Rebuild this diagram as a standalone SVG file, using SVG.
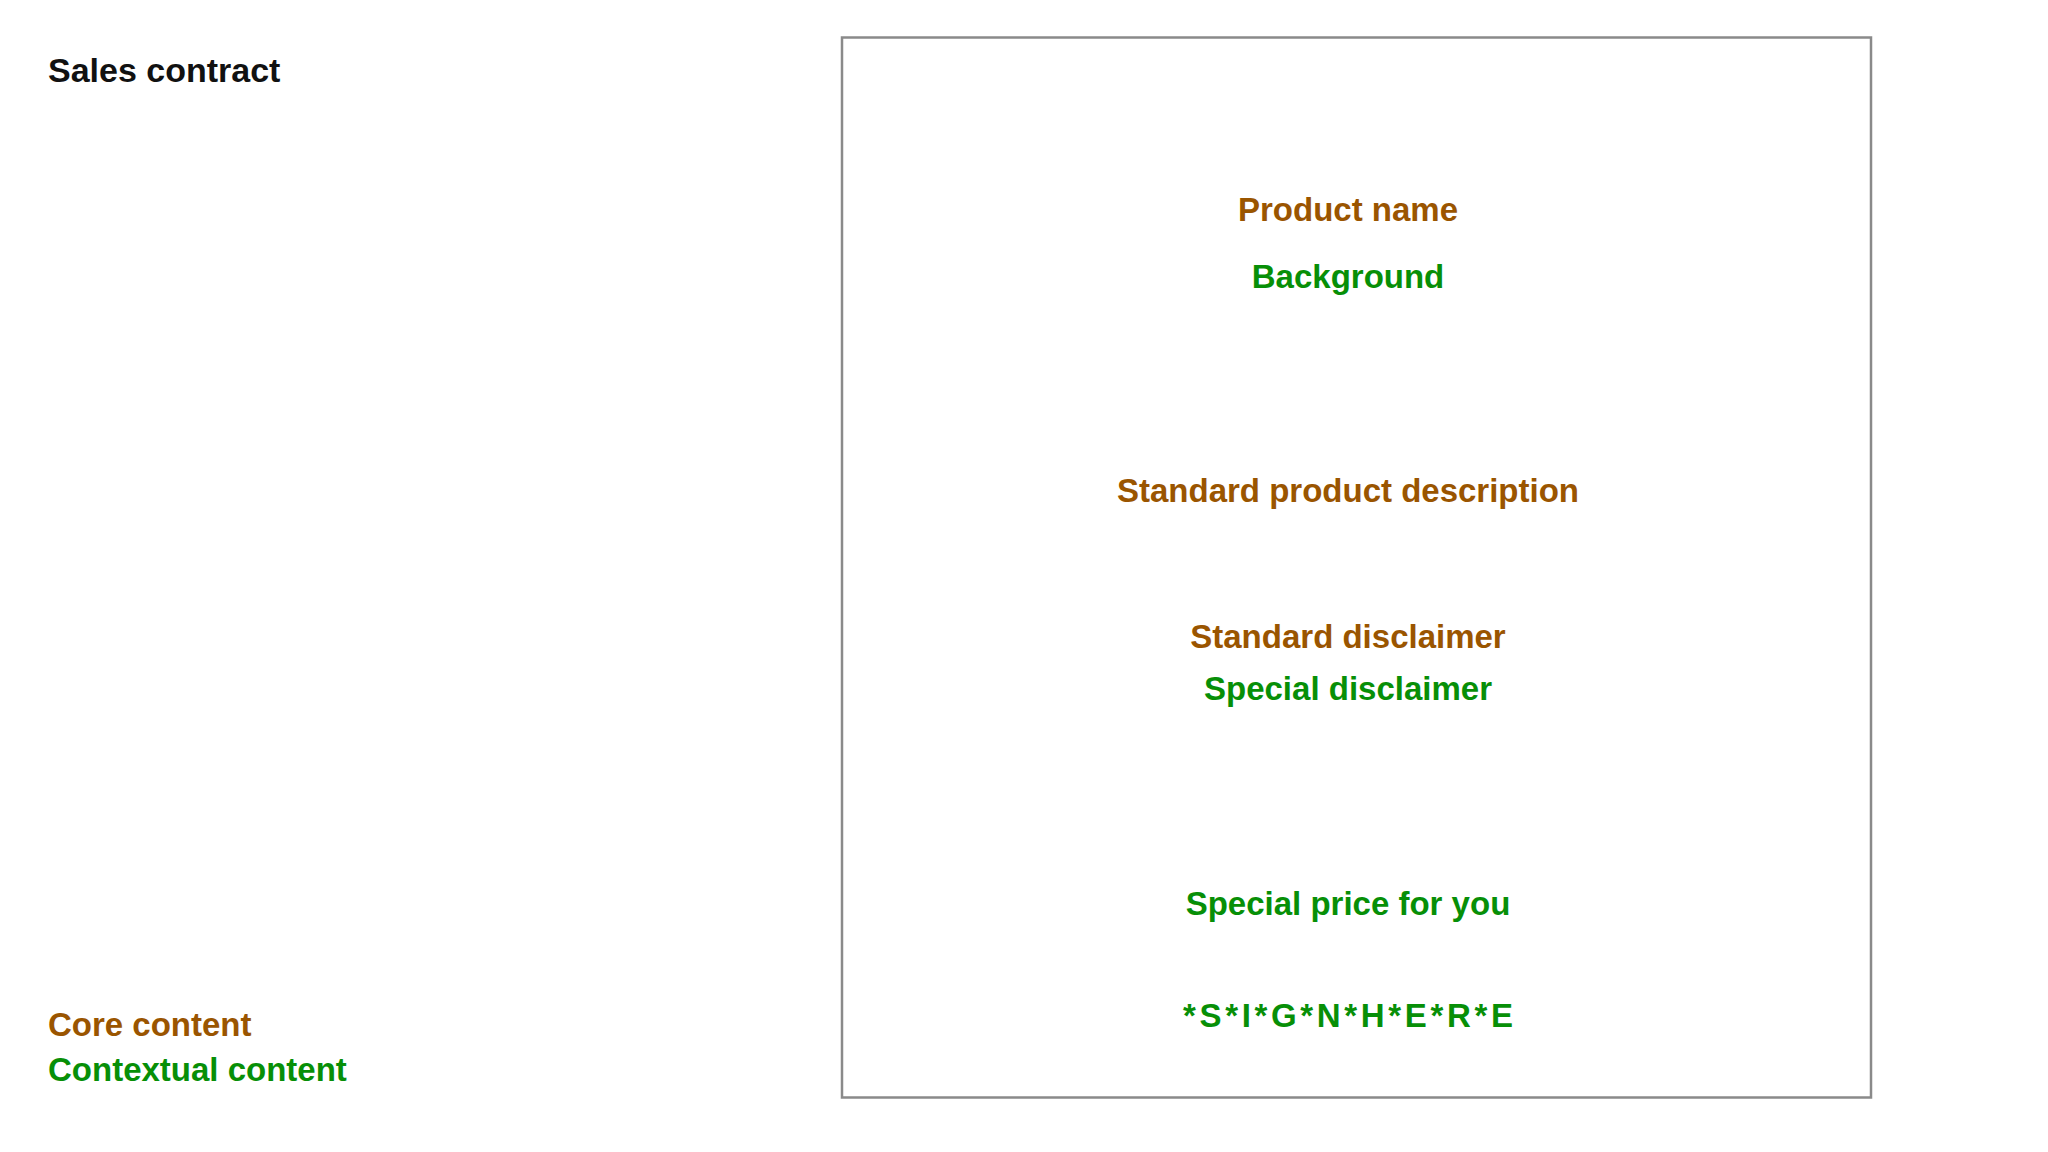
<svg xmlns="http://www.w3.org/2000/svg" width="2048" height="1152" viewBox="0 0 2048 1152">
<style>
text{font-family:"Liberation Sans",Arial,sans-serif;font-weight:bold;font-size:33px}
.core{fill:#9a5500}
.ctx{fill:#078f07}
.mid{text-anchor:middle}
.title{fill:#111;font-size:34px}
</style>
<rect width="2048" height="1152" fill="#ffffff"/>
<g id="title"><text class="title" x="48" y="82">Sales contract</text></g>
<g id="contract">
<rect x="842" y="37.5" width="1029" height="1060" fill="none" stroke="#8a8a8a" stroke-width="2.5"/>
</g>
<g id="product-name"><text class="core mid" x="1348" y="221">Product name</text></g>
<g id="background"><text class="ctx mid" x="1348" y="288">Background</text></g>
<g id="standard-description"><text class="core mid" x="1348" y="502">Standard product description</text></g>
<g id="standard-disclaimer"><text class="core mid" x="1348" y="648">Standard disclaimer</text></g>
<g id="special-disclaimer"><text class="ctx mid" x="1348" y="700">Special disclaimer</text></g>
<g id="special-price"><text class="ctx mid" x="1348" y="915">Special price for you</text></g>
<g id="sign-here"><text class="ctx mid" x="1348" y="1027" textLength="330" lengthAdjust="spacing">*S*I*G*N*H*E*R*E</text></g>
<g id="legend">
<text class="core" x="48" y="1036">Core content</text>
<text class="ctx" x="48" y="1081">Contextual content</text>
</g>
</svg>
